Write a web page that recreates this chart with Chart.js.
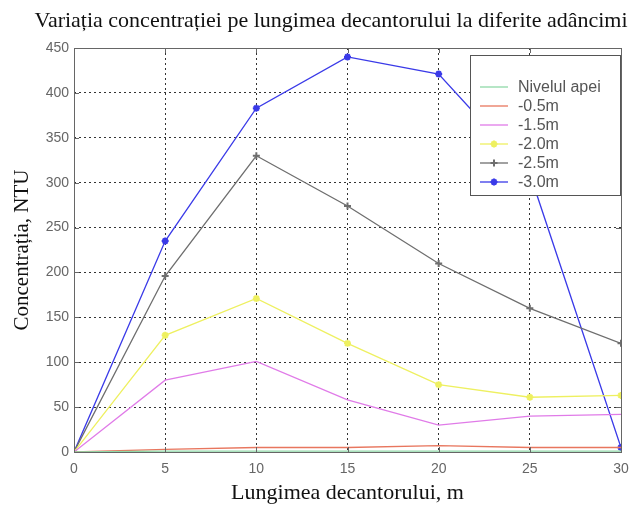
<!DOCTYPE html>
<html><head><meta charset="utf-8">
<script src="https://cdn.jsdelivr.net/npm/chart.js@4/dist/chart.umd.min.js"></script>
<style>html,body{margin:0;padding:0;background:#fff}#w{width:632px;height:506px}</style>
</head><body><div id="w"><canvas id="c" width="632" height="506"></canvas></div>
<script>
const chartTitle = "Variația concentrației pe lungimea decantorului la diferite adâncimi";
const xValues = [0, 5, 10, 15, 20, 25, 30];
const seriesNames = ["Nivelul apei", "-0.5m", "-1.5m", "-2.0m", "-2.5m", "-3.0m"];
const nivelulApei = [0, 1, 1, 1, 1, 1, 1];
const m05 = [0, 3, 5, 5, 7, 5, 5];
const m15 = [0, 80, 101, 58, 30, 40, 42];
const m20 = [0, 130, 171, 121, 75, 61, 63];
const m25 = [0, 196, 330, 274, 210, 160, 121];
const m30 = [0, 235, 383, 440, 421, 310, 5];
const yTicks = [0, 50, 100, 150, 200, 250, 300, 350, 400, 450];
const xTicks = [0, 5, 10, 15, 20, 25, 30];

const colors = ["#8fd8a8", "#e8765e", "#e07be8", "#eef060", "#6e6e6e", "#3a3ae8"];
const styles = [null, null, null, "star", "cross", "star"];
const allSeries = [nivelulApei, m05, m15, m20, m25, m30];

const datasets = allSeries.map((s, i) => ({
  label: seriesNames[i],
  data: s.map((v, j) => ({x: xValues[j], y: v})),
  borderColor: colors[i],
  backgroundColor: colors[i],
  borderWidth: 1.3,
  pointStyle: styles[i] || 'circle',
  pointRadius: styles[i] ? 3.5 : 0,
  pointBorderWidth: 2,
  pointBorderColor: colors[i],
  tension: 0
}));

const serif = '"Liberation Serif", "Times New Roman", serif';
const sans = '"Liberation Sans", Arial, sans-serif';

const frameAndLegend = {
  id: 'frameAndLegend',
  afterDraw(chart) {
    const ctx = chart.ctx, a = chart.chartArea;
    ctx.save();
    ctx.fillStyle = '#111';
    ctx.font = '22px ' + serif;
    ctx.textAlign = 'center';
    ctx.textBaseline = 'middle';
    ctx.fillText(chartTitle, 331, 21);
    ctx.textAlign = 'left';
    ctx.strokeStyle = '#666';
    ctx.lineWidth = 1;
    ctx.strokeRect(a.left + 0.5, a.top + 0.5, a.right - a.left, a.bottom - a.top);
    const xs = chart.scales.x, ys = chart.scales.y;
    ctx.beginPath();
    xTicks.forEach(t => { const px = Math.round(xs.getPixelForValue(t)) + 0.5;
      ctx.moveTo(px, a.top); ctx.lineTo(px, a.top + 5); ctx.moveTo(px, a.bottom); ctx.lineTo(px, a.bottom - 5); });
    yTicks.forEach(t => { const py = Math.round(ys.getPixelForValue(t)) + 0.5;
      ctx.moveTo(a.left, py); ctx.lineTo(a.left + 5, py); ctx.moveTo(a.right, py); ctx.lineTo(a.right - 5, py); });
    ctx.stroke();
    const bx = 470, by = 55, bw = 150, bh = 140;
    ctx.fillStyle = '#fff';
    ctx.fillRect(bx, by, bw, bh);
    ctx.strokeStyle = '#555';
    ctx.strokeRect(bx + 0.5, by + 0.5, bw, bh);
    ctx.save();
    ctx.beginPath(); ctx.rect(bx, by, bw - 6, bh); ctx.clip();
    ctx.font = '16px ' + sans;
    ctx.textBaseline = 'middle';
    chart.data.datasets.forEach((d, i) => {
      const y = by + 32 + i * 19;
      ctx.strokeStyle = d.borderColor; ctx.lineWidth = 1.3;
      ctx.beginPath(); ctx.moveTo(bx + 10, y); ctx.lineTo(bx + 38, y); ctx.stroke();
      if (d.pointRadius > 0) {
        ctx.fillStyle = d.borderColor; ctx.strokeStyle = d.borderColor; ctx.lineWidth = 2;
        Chart.helpers.drawPoint(ctx, {pointStyle: d.pointStyle, radius: 3.5, borderWidth: 2, rotation: 0}, bx + 24, y);
      }
      ctx.fillStyle = '#555';
      ctx.fillText(d.label, bx + 48, y + 1);
    });
    ctx.restore();
    ctx.restore();
  }
};

new Chart(document.getElementById('c'), {
  type: 'line',
  data: { datasets },
  options: {
    responsive: false,
    animation: false,
    layout: { padding: { top: 48, right: 11, left: 0, bottom: 0 } },
    plugins: {
      legend: { display: false },
      tooltip: { enabled: false },
      title: { display: false }
    },
    scales: {
      x: { type: 'linear', min: 0, max: 30,
        afterBuildTicks: s => { s.ticks = xTicks.map(v => ({value: v})); },
        afterFit: s => { s.height = 54; s.paddingRight = 0; s.paddingLeft = 0; },
        grid: { color: '#333', lineWidth: 1, tickLength: 0, drawTicks: false },
        border: { display: false, dash: [2, 3] },
        ticks: { color: '#666', font: { family: sans, size: 14 }, padding: 9 },
        title: { display: true, text: 'Lungimea decantorului, m', color: '#111',
          font: { family: serif, size: 22 }, padding: { top: 0, bottom: 0 } } },
      y: { type: 'linear', min: 0, max: 450,
        afterBuildTicks: s => { s.ticks = yTicks.map(v => ({value: v})); },
        afterFit: s => { s.width = 74; s.paddingTop = 0; s.paddingBottom = 0; },
        grid: { color: '#333', lineWidth: 1, tickLength: 0, drawTicks: false },
        border: { display: false, dash: [2, 3] },
        ticks: { color: '#666', font: { family: sans, size: 14 }, padding: 5 },
        title: { display: true, text: 'Concentrația, NTU', color: '#111',
          font: { family: serif, size: 21 }, padding: { top: 10, bottom: 0 } } }
    }
  },
  plugins: [frameAndLegend]
});
</script>
</body></html>
